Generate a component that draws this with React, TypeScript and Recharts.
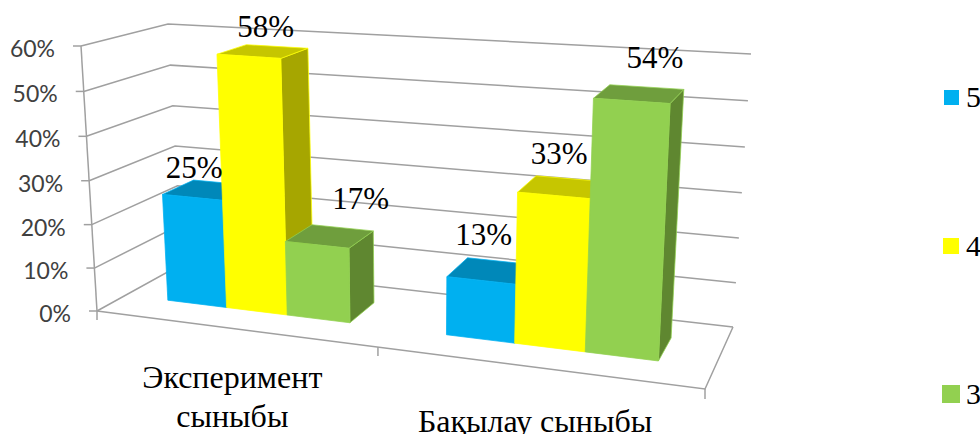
import React from 'react';
import { BarChart, Bar, XAxis, YAxis, CartesianGrid, Legend, LabelList } from 'recharts';

const categories = ['Эксперимент сыныбы', 'Бақылау сыныбы'];
const categoryLines = [['Эксперимент', 'сыныбы'], ['Бақылау сыныбы']];
const grade5 = [25, 13];
const grade4 = [58, 33];
const grade3 = [17, 54];
const percentTicks = [0, 10, 20, 30, 40, 50, 60];
const seriesNames = ['5', '4', '3'];

const data = categories.map((name, i) => ({
  name,
  '5': grade5[i],
  '4': grade4[i],
  '3': grade3[i],
}));

// face colours for the fake 3D boxes
const SHADES: Record<string, { top: string; side: string; edge: string }> = {
  '#00B0F0': { top: '#0088B9', side: '#0088B9', edge: '#00B0F0' },
  '#FFFF00': { top: '#C6C600', side: '#A6A600', edge: '#FFFF00' },
  '#92D050': { top: '#6F9E3D', side: '#5F8730', edge: '#92D050' },
};
const FILLS = ['#00B0F0', '#FFFF00', '#92D050'];
const SWATCH_SIZES = [15, 16, 18];
const GRID = '#A0A0A0';
const AXIS_TEXT = '#404040';
const SERIF = '"Liberation Serif", serif';

// flat plot rectangle the chart lays out in, before it is projected
const PLOT = { left: 100, top: 50, width: 600, height: 260 };

// screen corners of the 3D box
const BOX = {
  frontBL: [97, 311], frontBR: [705, 389], frontTL: [81, 46], frontTR: [720, 90],
  backBL: [182, 264], backBR: [733, 327], backTL: [168, 24], backTR: [751, 54],
};
const BAR_DEPTH = [0.34, 0.72];

const warp = (u: number, a: number) => (a * u) / (1 + (a - 1) * u);
const mix = (p: number[], q: number[], t: number) => [p[0] + (q[0] - p[0]) * t, p[1] + (q[1] - p[1]) * t];

function project(px: number, py: number, depth: number) {
  const t = warp((px - PLOT.left) / PLOT.width, 0.859);
  const s = warp((PLOT.top + PLOT.height - py) / PLOT.height, 0.967);
  const front = mix(mix(BOX.frontBL, BOX.frontBR, t), mix(BOX.frontTL, BOX.frontTR, t), s);
  const back = mix(mix(BOX.backBL, BOX.backBR, t), mix(BOX.backTL, BOX.backTR, t), s);
  return mix(front, back, depth);
}

const toPath = (pts: number[][]) => pts.map((p, i) => `${i ? 'L' : 'M'}${p[0]},${p[1]}`).join(' ');

function Box3D({ x, y, width, height, fill }: any) {
  const shade = SHADES[fill];
  const [d0, d1] = BAR_DEPTH;
  const r = x + width;
  const b = y + height;
  const front = [project(x, y, d0), project(r, y, d0), project(r, b, d0), project(x, b, d0)];
  const top = [project(x, y, d0), project(r, y, d0), project(r, y, d1), project(x, y, d1)];
  const side = [project(r, y, d0), project(r, y, d1), project(r, b, d1), project(r, b, d0)];
  return (
    <g stroke={shade.edge} strokeWidth={0.75} strokeLinejoin="round">
      <path d={toPath(side) + ' Z'} fill={shade.side} />
      <path d={toPath(top) + ' Z'} fill={shade.top} />
      <path d={toPath(front) + ' Z'} fill={fill} />
    </g>
  );
}

// side walls: each horizontal grid line folds back along the left wall and across the back
function WallLine({ y1, x1, x2 }: any) {
  const pts = [project(x1, y1, 0), project(x1, y1, 1), project(x2, y1, 1)];
  return <path d={toPath(pts)} fill="none" stroke={GRID} strokeWidth={1.5} />;
}

function PercentTick({ y, payload }: any) {
  const p = project(PLOT.left, y, 0);
  const isZero = payload.value === 0;
  return (
    <g>
      <line x1={p[0] - 8} y1={p[1]} x2={p[0]} y2={p[1]} stroke={GRID} strokeWidth={1.5} />
      {isZero && (
        <path
          d={toPath([project(PLOT.left, PLOT.top, 0), project(PLOT.left, PLOT.top + PLOT.height, 0)])}
          fill="none"
          stroke={GRID}
          strokeWidth={1.5}
        />
      )}
      <text x={p[0] - 26} y={p[1] + 2} textAnchor="end" dominantBaseline="central" fontFamily="Lato" fontSize={23} fill={AXIS_TEXT}>
        {payload.value}%
      </text>
    </g>
  );
}

function CategoryTick({ x, payload, index }: any) {
  const floorY = PLOT.top + PLOT.height;
  const half = PLOT.width / categories.length / 2;
  const anchor = project(x, floorY, 0);
  const left = project(x - half, floorY, 0);
  const right = project(x + half, floorY, 0);
  const lines = categoryLines[categories.indexOf(payload.value)] ?? [payload.value];
  const isLast = index === categories.length - 1;
  // the one-line label sits lower and runs into the bottom edge
  const firstBaseline = anchor[1] + (lines.length > 1 ? 60 : 65);
  return (
    <g>
      <line x1={left[0]} y1={left[1]} x2={left[0]} y2={left[1] + 9} stroke={GRID} strokeWidth={1.5} />
      {isLast && (
        <g fill="none" stroke={GRID} strokeWidth={1.5}>
          <line x1={right[0]} y1={right[1]} x2={right[0]} y2={right[1] + 10} />
          <path d={toPath([project(PLOT.left, floorY, 0), right, project(PLOT.left + PLOT.width, floorY, 1)])} />
        </g>
      )}
      {lines.map((line: string, i: number) => (
        <text key={line} x={anchor[0]} y={firstBaseline + i * 39} textAnchor="middle" fontFamily={SERIF} fontSize={32} fill="#000">
          {line}
        </text>
      ))}
    </g>
  );
}

// hand placed value labels, offset from the centre of each box top
const labelNudges: number[][][] = [
  [[-13, -23], [-7, -36]],
  [[3, -25], [-3, -34]],
  [[31, -38], [16, -36]],
];

const valueLabel = (series: number) => (props: any) => {
  const box = props.viewBox ?? props;
  const p = project(box.x + box.width / 2, box.y, (BAR_DEPTH[0] + BAR_DEPTH[1]) / 2);
  const nudge = labelNudges[series][props.index] ?? [0, -20];
  return (
    <text x={p[0] + nudge[0]} y={p[1] + nudge[1]} textAnchor="middle" dominantBaseline="central" fontFamily={SERIF} fontSize={31} fill="#000">
      {props.value}%
    </text>
  );
};

function GradeLegend({ payload }: any) {
  return (
    <div style={{ position: 'relative', width: 40, height: 340 }}>
      {(payload ?? []).map((entry: any, i: number) => (
        <div key={entry.value} style={{ position: 'absolute', left: 0, top: i * 148.5, height: 30, display: 'flex', alignItems: 'center' }}>
          <span style={{ width: 16, display: 'flex', justifyContent: 'center', marginRight: 7 }}>
            <span style={{ flex: 'none', width: SWATCH_SIZES[i], height: SWATCH_SIZES[i], background: entry.color }} />
          </span>
          <span style={{ fontFamily: SERIF, fontSize: 30, color: '#000', lineHeight: '30px' }}>{entry.value}</span>
        </div>
      ))}
    </div>
  );
}

export default function App() {
  return (
    <div style={{ position: 'absolute', left: 0, top: 0, width: 980, height: 434, overflow: 'hidden', background: '#fff' }}>
      <BarChart
        width={980}
        height={434}
        data={data}
        margin={{ top: PLOT.top, left: PLOT.left - 1, right: 980 - PLOT.left - PLOT.width, bottom: 434 - PLOT.top - PLOT.height - 1 }}
        barGap={0}
        barCategoryGap="16.4%"
      >
        <CartesianGrid vertical={false} horizontal={(p: any) => <WallLine key={p.key ?? p.y1} {...p} />} />
        <XAxis dataKey="name" height={1} axisLine={false} tickLine={false} interval={0} tick={(p: any) => <CategoryTick {...p} />} />
        <YAxis width={1} domain={[0, 60]} ticks={percentTicks} axisLine={false} tickLine={false} interval={0} tick={(p: any) => <PercentTick {...p} />} />
        <Legend
          layout="vertical"
          align="center"
          verticalAlign="middle"
          itemSorter={null}
          wrapperStyle={{ left: 943, top: 82, width: 40, height: 340 }}
          content={(p: any) => <GradeLegend {...p} />}
        />
        {seriesNames.map((key, i) => (
          <Bar key={key} dataKey={key} fill={FILLS[i]} isAnimationActive={false} shape={(p: any) => <Box3D {...p} />}>
            <LabelList dataKey={key} content={valueLabel(i)} />
          </Bar>
        ))}
      </BarChart>
    </div>
  );
}
